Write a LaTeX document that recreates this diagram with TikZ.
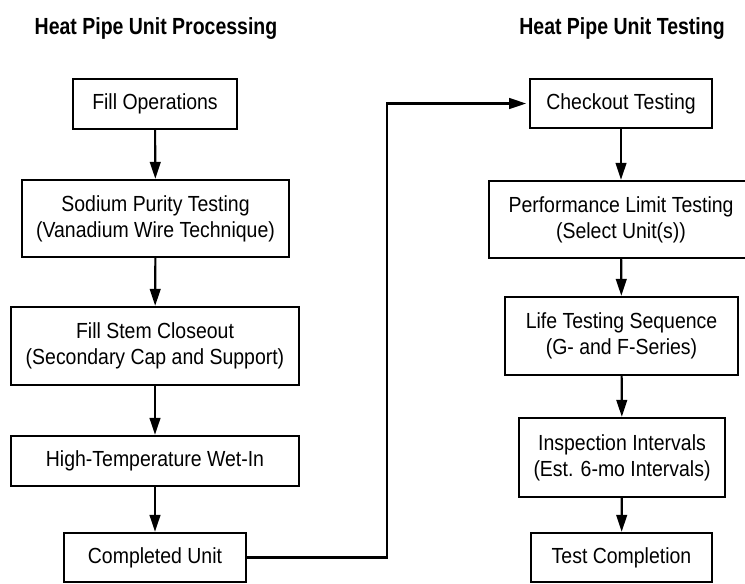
\documentclass[tikz,border=0pt]{standalone}
\usepackage{fontspec}
\setmainfont{Liberation Sans}[FakeStretch=0.89]
\newfontfamily\headfont{Liberation Sans}[FakeStretch=0.835]
\usetikzlibrary{arrows.meta}
\begin{document}
\begin{tikzpicture}[x=0.75pt,y=-0.75pt,
  stage/.style={draw, line width=1.75pt, align=center, inner sep=0pt,
    font=\fontsize{16.4}{19.5}\selectfont},
  flow/.style={line width=1.6pt, -{Triangle[length=12.75pt,width=8pt]}},
  heading/.style={font=\headfont\fontsize{17.5}{20}\selectfont\bfseries, anchor=base}]
\useasboundingbox (0,0) rectangle (745,583);

% column headings
\node[heading] (lt) at (156,34) {Heat Pipe Unit Processing};
\node[heading] (rt) at (622,34) {Heat Pipe Unit Testing};

% processing column
\node[stage, minimum width=123pt, minimum height=37.5pt] (fill) at (155,104) {Fill Operations};
\node[stage, minimum width=200.25pt, minimum height=57.75pt] (sodium) at (155.5,218.5)
  {Sodium Purity Testing\\(Vanadium Wire Technique)};
\node[stage, minimum width=216pt, minimum height=58.5pt] (stem) at (155,346)
  {Fill Stem Closeout\\(Secondary Cap and Support)};
\node[stage, minimum width=216pt, minimum height=37.5pt] (wetin) at (155,461) {High-Temperature Wet-In};
\node[stage, minimum width=136.5pt, minimum height=36.75pt] (done) at (155,557.5) {Completed Unit};

% testing column
\node[stage, minimum width=136.5pt, minimum height=36.75pt] (check) at (621,103.5) {Checkout Testing};
\node[stage, minimum width=198pt, minimum height=57.75pt] (perf) at (621,219.5)
  {Performance Limit Testing\\(Select Unit(s))};
\node[stage, minimum width=174.75pt, minimum height=58.5pt] (life) at (621.5,336)
  {Life Testing Sequence\\(G- and F-Series)};
\node[stage, minimum width=154.5pt, minimum height=59.25pt] (insp) at (622,457.5)
  {Inspection Intervals\\(Est. 6-mo Intervals)};
\node[stage, minimum width=135.75pt, minimum height=36.75pt] (tcomp) at (621.5,557.5) {Test Completion};

% flow arrows
\draw[flow] (fill) -- (sodium);
\draw[flow] (sodium) -- (stem);
\draw[flow] (stem) -- (wetin);
\draw[flow] (wetin) -- (done);
\draw[flow, shorten >=2pt] (done.east) -- ++(140,0) |- (check.west);
\draw[flow] (check) -- (perf);
\draw[flow] (perf) -- (life);
\draw[flow] (life) -- (insp);
\draw[flow] (insp) -- (tcomp);
\end{tikzpicture}
\end{document}
